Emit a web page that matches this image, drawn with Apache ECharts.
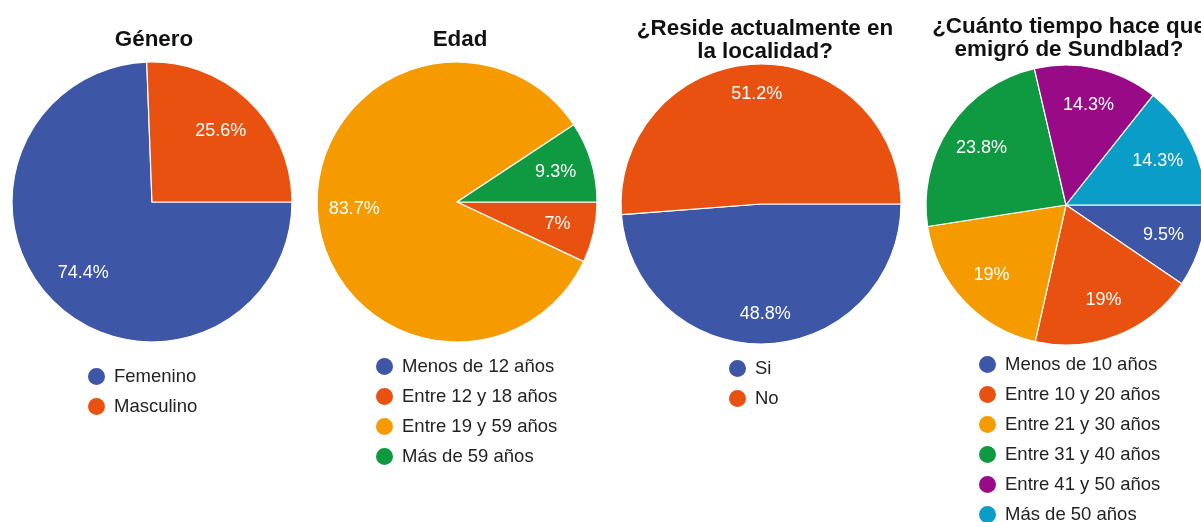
<!DOCTYPE html>
<html>
<head>
<meta charset="utf-8">
<script src="https://cdn.jsdelivr.net/npm/echarts@6/dist/echarts.min.js"></script>
<style>
html,body{margin:0;padding:0;background:#fff;}
#c{width:1201px;height:522px;}
</style>
</head>
<body>
<div id="c"></div>
<script>
// ---- Data ----
var titles = ['Género', 'Edad', '¿Reside actualmente en\nla localidad?', '¿Cuánto tiempo hace que\nemigró de Sundblad?'];

var generoNames = ['Femenino', 'Masculino'];
var generoValues = [74.4, 25.6];

var edadNames = ['Menos de 12 años', 'Entre 12 y 18 años', 'Entre 19 y 59 años', 'Más de 59 años'];
var edadValues = [0, 7, 83.7, 9.3];

var resideNames = ['Si', 'No'];
var resideValues = [48.8, 51.2];

var tiempoNames = ['Menos de 10 años', 'Entre 10 y 20 años', 'Entre 21 y 30 años', 'Entre 31 y 40 años', 'Entre 41 y 50 años', 'Más de 50 años'];
var tiempoValues = [9.5, 19, 19, 23.8, 14.3, 14.3];

// ---- Styles ----
var palette = ['#3d56a5', '#e8510f', '#f59b00', '#0f9940', '#990a86', '#0a9dc7'];
var FONT = 'Liberation Sans, Arial, sans-serif';

var charts = [
  { names: generoNames, values: generoValues, center: [152, 202], labelR0: 52, titleX: 149, titleTop: 23, legend: [86, 366] },
  { names: edadNames, values: edadValues, center: [457, 202], labelR0: 60, titleX: 455, titleTop: 23, legend: [374, 356] },
  { names: resideNames, values: resideValues, center: [761, 204], labelR0: 74, titleX: 760, titleTop: 12, legend: [727, 358] },
  { names: tiempoNames, values: tiempoValues, center: [1066, 205], labelR0: 58, titleX: 1064, titleTop: 10, legend: [977, 354] }
];
var R = 140;

function mk(names, values, transparent) {
  return names.map(function (n, i) {
    return { name: n, value: values[i], itemStyle: { color: transparent ? 'rgba(0,0,0,0)' : palette[i] } };
  });
}

var title = [], legend = [], series = [];
charts.forEach(function (c, k) {
  title.push({
    text: titles[k], left: c.titleX, top: c.titleTop, textAlign: 'center',
    textStyle: { fontFamily: FONT, fontWeight: 'bold', fontSize: 22.4, color: '#111', lineHeight: 23.5 }
  });
  legend.push({
    data: c.names, orient: 'vertical', left: c.legend[0], top: c.legend[1], height: 220, padding: 0,
    icon: 'circle', itemWidth: 19, itemHeight: 19, itemGap: 9, selectedMode: false,
    textStyle: { fontFamily: FONT, fontSize: 18.5, color: '#222', padding: [0, 0, 0, 3] }
  });
});
charts.forEach(function (c) {
  series.push({
    type: 'pie', center: c.center, radius: [0, R], startAngle: 0, clockwise: true,
    data: mk(c.names, c.values, false), silent: true, animation: false,
    itemStyle: { borderColor: '#fff', borderWidth: 1.2 },
    label: { show: false }, labelLine: { show: false }, emphasis: { disabled: true }
  });
});
charts.forEach(function (c) {
  series.push({
    type: 'pie', center: c.center, radius: [c.labelR0, R], startAngle: 0, clockwise: true,
    data: mk(c.names, c.values, true), silent: true, animation: false, legendHoverLink: false,
    itemStyle: { borderWidth: 0 },
    label: {
      show: true, position: 'inside', color: '#fff', fontFamily: FONT, fontSize: 18,
      formatter: function (p) { return p.value > 0 ? p.value + '%' : ''; }
    },
    labelLine: { show: false }, emphasis: { disabled: true }
  });
});

var chart = echarts.init(document.getElementById('c'));
chart.setOption({ animation: false, backgroundColor: '#fff', title: title, legend: legend, series: series });
</script>
</body>
</html>
